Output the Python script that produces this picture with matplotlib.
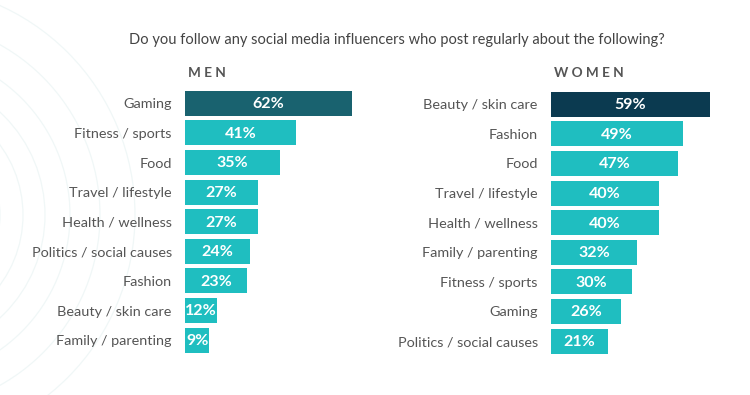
import matplotlib
matplotlib.use("Agg")
import matplotlib.pyplot as plt
from matplotlib.patches import Circle

W, H = 750, 395

title = "Do you follow any social media influencers who post regularly about the following?"

men_labels = ["Gaming", "Fitness / sports", "Food", "Travel / lifestyle", "Health / wellness",
              "Politics / social causes", "Fashion", "Beauty / skin care", "Family / parenting"]
men_values = [62, 41, 35, 27, 27, 24, 23, 12, 9]

women_labels = ["Beauty / skin care", "Fashion", "Food", "Travel / lifestyle", "Health / wellness",
                "Family / parenting", "Fitness / sports", "Gaming", "Politics / social causes"]
women_values = [59, 49, 47, 40, 40, 32, 30, 26, 21]

TEAL = "#1fbec0"
MEN_TOP = "#19626f"
WOMEN_TOP = "#0b3a50"
TEXT = "#555555"

plt.rcParams['font.family'] = ['Lato', 'DejaVu Sans']

fig = plt.figure(figsize=(W / 100, H / 100), dpi=100)
fig.patch.set_facecolor("white")

# background decorative arcs
bg = fig.add_axes([0, 0, 1, 1])
bg.set_xlim(0, W)
bg.set_ylim(H, 0)
bg.axis("off")
for r in [95, 118, 140, 165, 195, 230]:
    bg.add_patch(Circle((-95, 215), r, fill=False, ec="#f0f7f7", lw=0.9))

fig.text(397 / W, 1 - 40 / H, title, ha="center", va="center", fontsize=10.5, color="#444444")


def panel(left_px, top_px, labels, values, top_color, header, header_x):
    px_per = 2.7
    xmax = 66
    n = len(values)
    step = 29.6
    height_px = step * n
    ax = fig.add_axes([left_px / W, 1 - (top_px + height_px) / H, xmax * px_per / W, height_px / H])
    colors = [top_color] + [TEAL] * (n - 1)
    y = list(range(n))
    ax.barh(y, values, height=0.84, color=colors, left=0)
    ax.set_xlim(0, xmax)
    ax.set_ylim(n - 0.5, -0.5)
    ax.set_yticks(y)
    ax.set_yticklabels(labels, fontsize=10.4, color=TEXT)
    ax.tick_params(axis="y", length=0, pad=9.5)
    ax.set_xticks([])
    for s in ax.spines.values():
        s.set_visible(False)
    ax.patch.set_alpha(0)
    for yi, v in zip(y, values):
        ax.text(v / 2, yi + 0.03, f"{v}%", ha="center", va="center", color="white",
                fontsize=11.5, fontweight="bold")
    fig.text(header_x / W, 1 - 73 / H, header, ha="left", va="center", fontsize=9.8,
             fontweight="bold", color=TEXT)
    return ax


panel(185, 88.5, men_labels, men_values, MEN_TOP, "M E N", 188)
panel(551, 89.5, women_labels, women_values, WOMEN_TOP, "W O M E N", 554)

fig.savefig("out.png", dpi=100, facecolor="white")
